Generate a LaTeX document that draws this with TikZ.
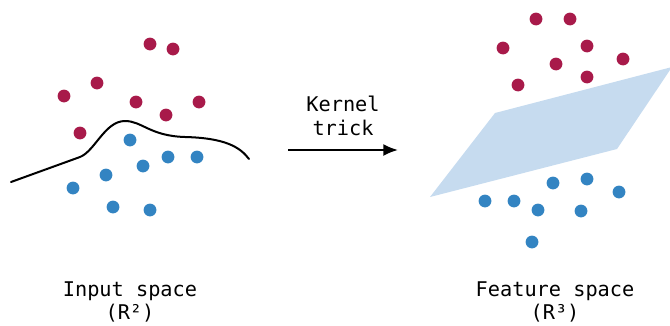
\documentclass[tikz,border=0pt]{standalone}
\usepackage{fontspec}
\usetikzlibrary{arrows.meta}
\newfontfamily\dejamono{DejaVu Sans Mono}
\definecolor{dotred}{HTML}{A81A4A}
\definecolor{dotblue}{HTML}{3384C2}
\definecolor{planeblue}{HTML}{C6DBEF}
\tikzset{
  rdot/.style={circle,fill=dotred,inner sep=0pt,minimum size=9.6pt},
  bdot/.style={circle,fill=dotblue,inner sep=0pt,minimum size=9.6pt},
  lbl/.style={font=\dejamono\fontsize{15.2}{17.5}\selectfont,align=center,inner sep=0pt},
}
\begin{document}
\begin{tikzpicture}[x=0.75pt,y=-0.75pt]
\useasboundingbox (0,0) rectangle (670,325);
% plane
\begin{scope}
\clip (0,0) rectangle (670,325);
\fill[planeblue] (430,197) -- (495,113) -- (672,67) -- (617,149) -- cycle;
\end{scope}
% curve
\draw[line width=1.5pt,line cap=round,line join=round] (11,182) -- (80,157)
  .. controls (95,151) and (105,121) .. (125,121)
  .. controls (142,121) and (150,136) .. (185,137)
  .. controls (225,138) and (240,147) .. (249,159);
% left dots
\foreach \n/\x/\y in {a/150/44,b/173/49,c/97/83,d/64/96,e/136/102,f/199/102,g/166/115,h/80/133}
  \node[rdot] (L\n) at (\x,\y) {};
\foreach \n/\x/\y in {a/130/140,b/168/157,c/197/157,d/143/166,e/106/175,f/73/188,g/113/207,h/150/210}
  \node[bdot] (LB\n) at (\x,\y) {};
% right dots
\foreach \n/\x/\y in {a/536/19,b/570/19,c/503/48,d/587/46,e/556/64,f/623/59,g/587/77,h/518/85}
  \node[rdot] (R\n) at (\x,\y) {};
\foreach \n/\x/\y in {a/553/183,b/587/179,c/619/192,d/485/201,e/514/201,f/538/210,g/581/211,h/532/242}
  \node[bdot] (RB\n) at (\x,\y) {};
% arrow
\coordinate (as) at (288,150);
\coordinate (ae) at (398,150);
\draw[line width=1.5pt,-{Latex[length=11pt,width=9pt]}] (as) -- (ae);
\node[lbl] (kt) at (343,116) {Kernel\\trick};
\node[lbl] (inp) at (130,302) {Input space\\(R²)};
\node[lbl] (feat) at (555,302) {Feature space\\(R³)};
\end{tikzpicture}
\end{document}
